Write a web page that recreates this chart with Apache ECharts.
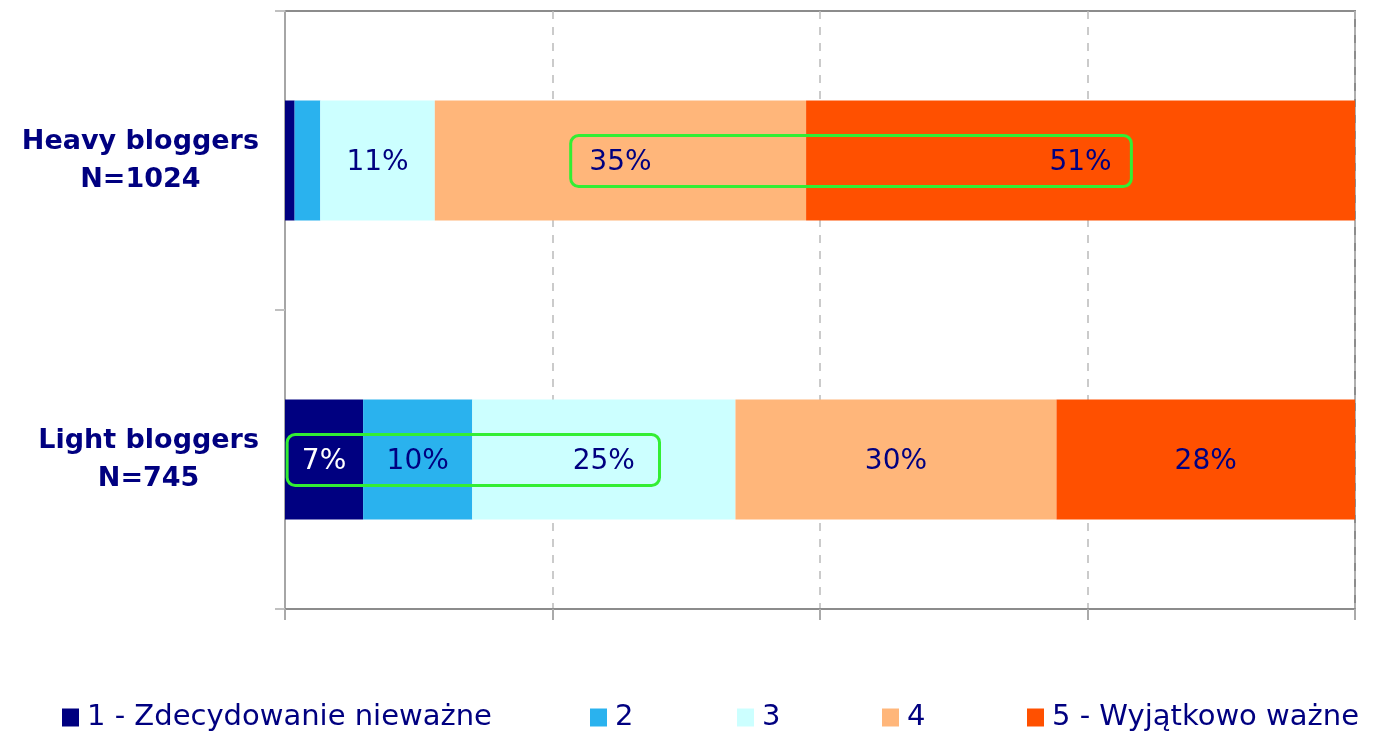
<!DOCTYPE html>
<html>
<head>
<meta charset="utf-8">
<script src="https://cdn.jsdelivr.net/npm/echarts@6/dist/echarts.min.js"></script>
<style>
  html, body { margin: 0; padding: 0; background: #fff; }
  #chart { width: 1378px; height: 734px; }
</style>
</head>
<body>
<div id="chart"></div>
<script>
var categories = ['Heavy bloggers\nN=1024', 'Light bloggers\nN=745'];
var seriesNames = ['1 - Zdecydowanie nieważne', '2', '3', '4', '5 - Wyjątkowo ważne'];
var seriesColors = ['#000080', '#2ab2ee', '#ccffff', '#ffb67a', '#ff5000'];
var labelColors = ['#ffffff', '#000080', '#000080', '#000080', '#000080'];
var values1 = [0.9, 7.3];
var values2 = [2.4, 10.2];
var values3 = [10.7, 24.6];
var values4 = [34.7, 30.0];
var values5 = [51.3, 27.9];
var legendLeft = [57, 585, 732, 877, 1022];
// highlight boxes: [category index, from %, to %]
var highlights = [[0, 26.7, 79.1], [1, 0.2, 35.0]];

var allValues = [values1, values2, values3, values4, values5];
var navy = '#000080';
var font = '"DejaVu Sans", Verdana, sans-serif';

var chart = echarts.init(document.getElementById('chart'));

var series = seriesNames.map(function(name, i) {
  return {
    name: name,
    type: 'bar',
    stack: 'total',
    barWidth: 120,
    itemStyle: { color: seriesColors[i] },
    label: {
      show: true,
      position: 'inside',
      offset: [0, 2],
      color: labelColors[i],
      fontFamily: font,
      fontSize: 28,
      formatter: function(p) {
        return p.value < 5 ? '' : Math.round(p.value) + '%';
      }
    },
    emphasis: { disabled: true },
    data: allValues[i]
  };
});

var legends = seriesNames.map(function(name, i) {
  return {
    left: legendLeft[i],
    top: 698,
    data: [name],
    icon: 'rect',
    itemWidth: 17,
    itemHeight: 18,
    itemGap: 0,
    textStyle: { color: navy, fontFamily: font, fontSize: 29, padding: [0, 0, 0, 3] },
    selectedMode: false
  };
});

chart.setOption({
  animation: false,
  grid: {
    left: 285,
    right: 23,
    top: 11,
    bottom: 125,
    show: true,
    borderColor: '#8c8c8c',
    borderWidth: 2
  },
  legend: legends,
  xAxis: {
    type: 'value',
    min: 0,
    max: 100,
    interval: 25,
    axisLabel: { show: false },
    axisLine: { show: true, lineStyle: { color: '#8c8c8c', width: 2 } },
    axisTick: { show: true, length: 11, lineStyle: { color: '#aaaaaa', width: 2 } },
    splitLine: { show: true, lineStyle: { color: '#bbbbbb', type: [8, 8], width: 1.5 } }
  },
  yAxis: {
    type: 'category',
    inverse: true,
    data: categories,
    axisLine: { show: true, lineStyle: { color: '#a6a6a6', width: 2 } },
    axisTick: { show: true, length: 10, lineStyle: { color: '#c0c0c0', width: 2 } },
    axisLabel: {
      margin: 26,
      align: 'right',
      formatter: function(v) {
        return v.split('\n').map(function(s) { return '{a|' + s + '}'; }).join('\n');
      },
      rich: {
        a: {
          align: 'center',
          color: navy,
          fontFamily: font,
          fontWeight: 'bold',
          fontSize: 27,
          lineHeight: 38
        }
      }
    }
  },
  series: series
});

var boxes = highlights.map(function(h) {
  var p1 = chart.convertToPixel({ gridIndex: 0 }, [h[1], h[0]]);
  var p2 = chart.convertToPixel({ gridIndex: 0 }, [h[2], h[0]]);
  return {
    type: 'rect',
    shape: { x: p1[0], y: p1[1] - 25, width: p2[0] - p1[0], height: 51, r: 8 },
    style: { fill: 'none', stroke: '#33ee33', lineWidth: 3 },
    z: 100
  };
});
chart.setOption({ graphic: boxes });
</script>
</body>
</html>
